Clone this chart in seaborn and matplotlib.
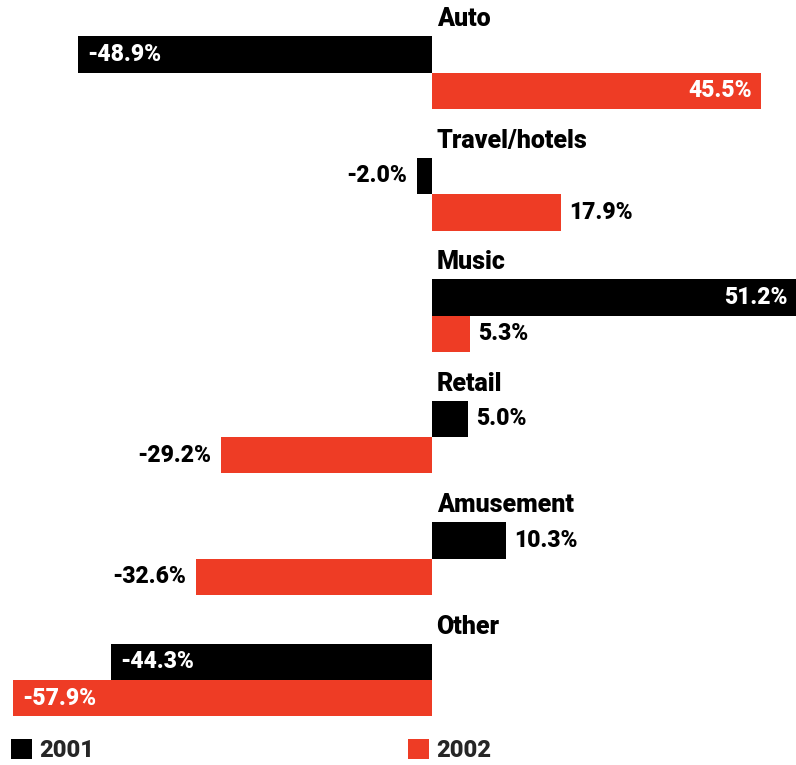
import matplotlib
matplotlib.use("Agg")
import matplotlib.pyplot as plt
import pandas as pd
import seaborn as sns

# Year-over-year change in ad spending by category
categories = ["Auto", "Travel/hotels", "Music", "Retail", "Amusement", "Other"]
years = ["2001", "2002"]
change_2001 = [-48.9, -2.0, 51.2, 5.0, 10.3, -44.3]
change_2002 = [45.5, 17.9, 5.3, -29.2, -32.6, -57.9]
year_colors = {"2001": "#000000", "2002": "#EE3C25"}

df = pd.DataFrame({
    "category": categories * 2,
    "year": [years[0]] * len(categories) + [years[1]] * len(categories),
    "value": change_2001 + change_2002,
})

sns.set_theme(style="white")
FONT = ["Roboto", "DejaVu Sans"]
plt.rcParams["font.family"] = FONT

fig = plt.figure(figsize=(7.96, 7.65), dpi=100)
ax = fig.add_axes([0, 0, 1, 1])

sns.barplot(
    data=df, x="value", y="category", hue="year", orient="h",
    order=categories, hue_order=years, palette=year_colors,
    saturation=1, width=0.6, linewidth=0, ax=ax,
)

xmin, xmax = -59.71, 50.39
ax.set_xlim(xmin, xmax)
ax.set_ylim(5.70, -0.598)
ax.axis("off")

# Value labels: white inside long bars, black just outside short ones
for container, vals in zip(ax.containers, [change_2001, change_2002]):
    for patch, v in zip(container.patches, vals):
        yc = patch.get_y() + patch.get_height() / 2
        if abs(v) > 40:
            x = min(max(v, xmin), xmax)
            dx = -6 if v > 0 else 6.5
            ha = "right" if v > 0 else "left"
            color = "white"
        else:
            x = v
            dx = 6 if v > 0 else -7
            ha = "left" if v > 0 else "right"
            color = "black"
        ax.annotate(f"{v:.1f}%", (x, yc), xytext=(dx, 0),
                    textcoords="offset points", ha=ha, va="center",
                    color=color, fontsize=16.5, fontweight="black",
                    family=FONT)

# Category titles above each pair of bars
for i, cat in enumerate(categories):
    ax.annotate(cat, (0, i - 0.3), xytext=(3.5, 7), textcoords="offset points",
                ha="left", va="baseline", fontsize=18, fontweight="black",
                family=FONT, color="black")

handles, labels = ax.get_legend_handles_labels()
if ax.get_legend() is not None:
    ax.get_legend().remove()
fig.legend(handles, labels, loc="lower left", bbox_to_anchor=(11 / 796, 3 / 765),
           ncol=2, frameon=False, handlelength=0.9, handleheight=0.9,
           handletextpad=0.3, columnspacing=13.3, borderpad=0, borderaxespad=0,
           prop=dict(family=FONT, weight="black", size=17))

fig.savefig("out.png", dpi=100)
